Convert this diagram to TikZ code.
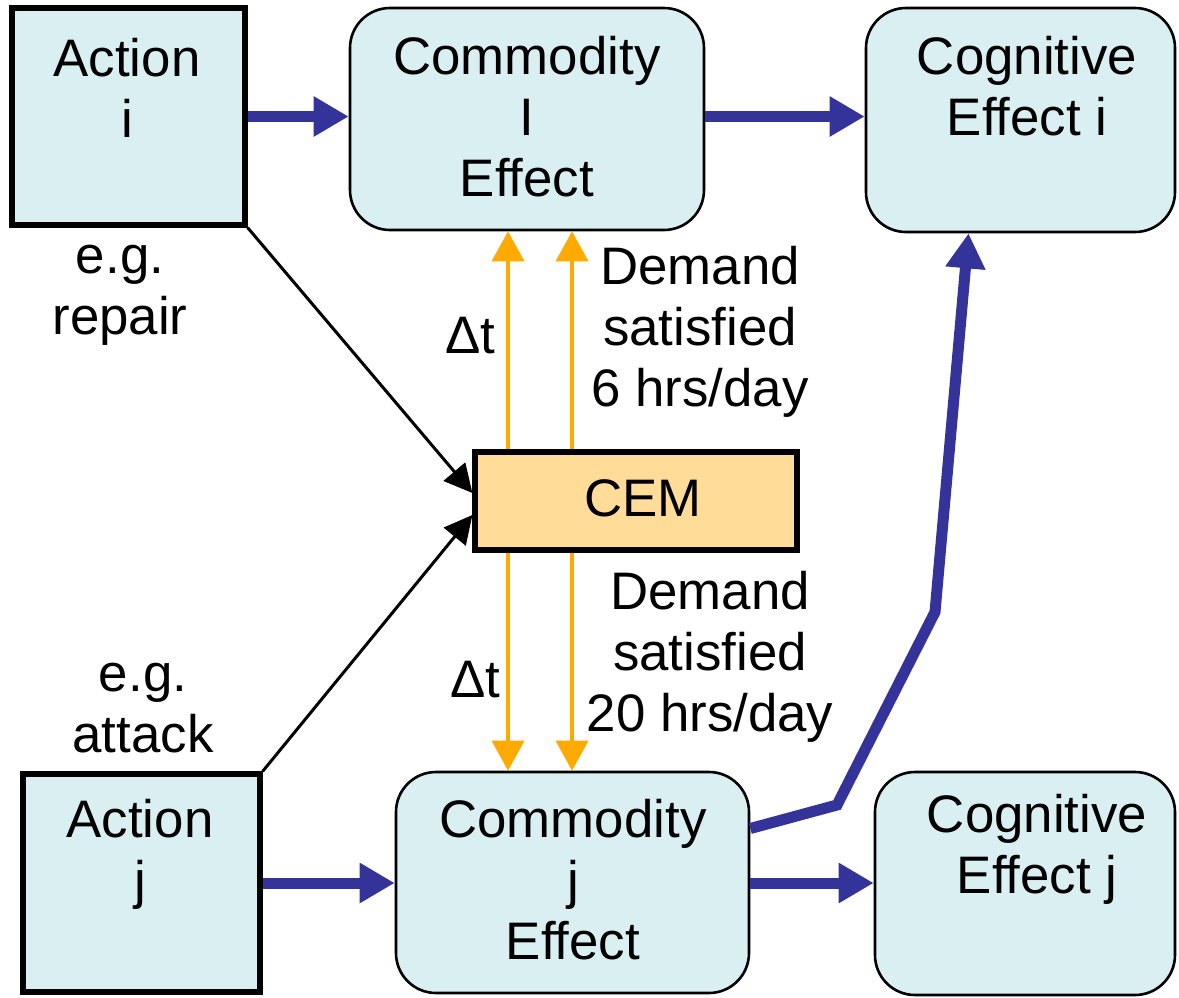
\documentclass[tikz,border=0pt]{standalone}
\usepackage{fontspec}
\setmainfont{Liberation Sans}
\usetikzlibrary{arrows.meta,calc}
\definecolor{boxfill}{RGB}{218,239,241}
\definecolor{cemfill}{RGB}{255,221,153}
\definecolor{flowblue}{RGB}{51,51,153}
\definecolor{flowor}{RGB}{255,170,0}
\begin{document}
\begin{tikzpicture}[x=0.5pt,y=-0.5pt,
  every node/.style={font=\fontsize{26.4}{30.5}\selectfont, inner sep=0pt},
  actbox/.style={draw, line width=2.6pt, fill=boxfill, rectangle},
  effbox/.style={draw, line width=1.3pt, fill=boxfill, rectangle, rounded corners=20pt},
  cembox/.style={draw, line width=2.6pt, fill=cemfill, rectangle},
  txt/.style={align=center},
  blueflow/.style={draw=flowblue, line width=5.5pt, -{Triangle[length=17.5pt,width=19pt]}},
  orflow/.style={draw=flowor, line width=2pt, -{Triangle[length=15pt,width=16pt]}},
  blkflow/.style={draw=black, line width=1.5pt, -{Triangle[length=14pt,width=14pt]}}
]
\useasboundingbox (0,0) rectangle (1179,997);
% boxes
\node[actbox, minimum width=116.5pt, minimum height=108.5pt] (ai) at (128.5,116.5) {};
\node[effbox, minimum width=177pt, minimum height=111pt] (ci) at (527,119) {};
\node[effbox, minimum width=154.5pt, minimum height=112pt] (gi) at (1020.5,120) {};
\node[cembox, minimum width=161pt, minimum height=49pt] (cem) at (636,501) {};
\node[actbox, minimum width=118.5pt, minimum height=109pt] (aj) at (141.5,883) {};
\node[effbox, minimum width=176.5pt, minimum height=110.5pt] (cj) at (572.5,882.5) {};
\node[effbox, minimum width=150pt, minimum height=111.5pt] (gj) at (1025,883.5) {};
% texts
\node[txt] (tai) at (127,88) {Action\\i};
\node[txt] (tci) at (527,117) {Commodity\\I\\Effect};
\node[txt] (tgi) at (1027,86) {Cognitive\\Effect i};
\node[txt] (tcem) at (643,498) {CEM};
\node[txt] (taj) at (140,854) {Action\\j};
\node[txt] (tcj) at (573,880) {Commodity\\j\\Effect};
\node[txt] (tgj) at (1037,849) {Cognitive\\Effect j};
\node[txt] (egr) at (120,295) {e.g.\\repair};
\node[txt] (ega) at (143,708) {e.g.\\attack};
\node[txt] (dt1) at (470,336) {Δt};
\node[txt] (dt2) at (475,680) {Δt};
\node[txt] (dm1) at (700,332) {Demand\\satisfied\\6 hrs/day};
\node[txt] (dm2) at (710,657) {Demand\\satisfied\\20 hrs/day};
% blue flows
\draw[blueflow] (ai.east) -- (ci.west |- ai.east);
\draw[blueflow] (ci.east |- ai.east) -- (gi.west |- ai.east);
\draw[blueflow] (aj.east) -- (cj.west |- aj.east);
\draw[blueflow] (cj.east |- aj.east) -- (gj.west |- aj.east);
\coordinate (b1) at (837,805);
\coordinate (b2) at (935,612);
\draw[blueflow, line join=miter] ($(cj.east)+(0,-54)$) -- (b1) -- (b2) -- ($(gi.south)+(-52,0)$);
% black flows
\draw[blkflow] (ai.south east) -- ($(cem.west)+(0,-8)$);
\draw[blkflow] (aj.north east) -- ($(cem.west)+(0,14)$);
% orange flows
\coordinate (o1) at ($(cem.north)+(-128,0)$);
\coordinate (o2) at ($(cem.north)+(-64,0)$);
\coordinate (o3) at ($(cem.south)+(-128,0)$);
\coordinate (o4) at ($(cem.south)+(-64,0)$);
\draw[orflow] (o1) -- (o1 |- ci.south);
\draw[orflow] (o2) -- (o2 |- ci.south);
\draw[orflow] (o3) -- (o3 |- cj.north);
\draw[orflow] (o4) -- (o4 |- cj.north);
\end{tikzpicture}
\end{document}
